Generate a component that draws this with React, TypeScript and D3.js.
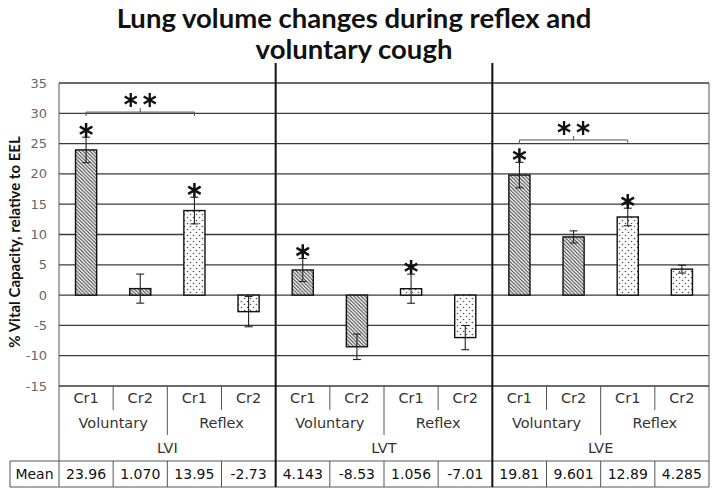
import { useEffect, useRef } from "react";
import * as d3 from "d3";

const groups = ["LVI", "LVT", "LVE"];
const conditions = ["Voluntary", "Reflex"];
const coughs = ["Cr1", "Cr2"];

const lviMeans = [23.96, 1.07, 13.95, -2.73];
const lvtMeans = [4.143, -8.53, 1.056, -7.01];
const lveMeans = [19.81, 9.601, 12.89, 4.285];

const lviErrors = [2.1, 2.4, 2.2, 2.5];
const lvtErrors = [1.9, 2.1, 2.4, 2.0];
const lveErrors = [2.1, 1.0, 1.45, 0.65];

const lviStars = [true, false, true, false];
const lvtStars = [true, false, true, false];
const lveStars = [true, false, true, false];

const meanLabels = [
  "23.96", "1.070", "13.95", "-2.73",
  "4.143", "-8.53", "1.056", "-7.01",
  "19.81", "9.601", "12.89", "4.285",
];

const yTicks = [35, 30, 25, 20, 15, 10, 5, 0, -5, -10, -15];

// ** brackets: from Voluntary Cr1 to Reflex Cr1 in a group, at a y level
const bracketGroups = ["LVI", "LVE"];
const bracketLevels = [30.2, 25.6];

const title = ["Lung volume changes during reflex and", "voluntary cough"];
const yLabel = "% Vital Capacity, relative to EEL";

type Bar = {
  id: string;
  group: string;
  condition: string;
  cough: string;
  value: number;
  err: number;
  star: boolean;
  label: string;
};

const allMeans = [lviMeans, lvtMeans, lveMeans];
const allErrors = [lviErrors, lvtErrors, lveErrors];
const allStars = [lviStars, lvtStars, lveStars];

const bars: Bar[] = [];
groups.forEach((g, gi) =>
  conditions.forEach((c, ci) =>
    coughs.forEach((k, ki) => {
      const i = ci * 2 + ki;
      bars.push({
        id: `${g}-${c}-${k}`,
        group: g,
        condition: c,
        cough: k,
        value: allMeans[gi][i],
        err: allErrors[gi][i],
        star: allStars[gi][i],
        label: meanLabels[gi * 4 + i],
      });
    })
  )
);

const starPath = (cx: number, cy: number, r: number) => {
  const a = Math.PI / 6;
  const dx = r * Math.cos(a);
  const dy = r * Math.sin(a);
  return (
    `M${cx},${cy - r}L${cx},${cy + r}` +
    `M${cx - dx},${cy - dy}L${cx + dx},${cy + dy}` +
    `M${cx - dx},${cy + dy}L${cx + dx},${cy - dy}`
  );
};

export default function App() {
  const svgRef = useRef<SVGSVGElement | null>(null);
  const width = 714;
  const height = 490;

  useEffect(() => {
    const svg = d3.select(svgRef.current);
    svg.selectAll("*").remove();

    const left = 59;
    const right = 709;
    const plotTop = 83;
    const plotBottom = 386;
    const rowCr = 410;
    const rowCond = 435;
    const rowGroup = 461;
    const rowMean = 487;
    const meanLeft = 10;
    const labelFont = "'DejaVu Sans', Verdana, sans-serif";

    const y = d3.scaleLinear().domain([-15, 35]).range([plotBottom, plotTop]);
    const x = d3
      .scaleBand<string>()
      .domain(bars.map((b) => b.id))
      .range([left, right])
      .paddingInner(0.61)
      .paddingOuter(0.305);
    const step = x.step();
    const cellLeft = (i: number) => left + i * step;

    const defs = svg.append("defs");
    const hatch = defs
      .append("pattern")
      .attr("id", "hatch")
      .attr("width", 3.6)
      .attr("height", 3.6)
      .attr("patternUnits", "userSpaceOnUse");
    hatch.append("rect").attr("width", 3.6).attr("height", 3.6).attr("fill", "#fff");
    hatch
      .append("path")
      .attr("d", "M-1,-1L4.6,4.6M2.6,-1L4.6,1M-1,2.6L1,4.6")
      .attr("stroke", "#2a2a2a")
      .attr("stroke-width", 1);

    const dots = defs
      .append("pattern")
      .attr("id", "dots")
      .attr("width", 6)
      .attr("height", 6)
      .attr("patternUnits", "userSpaceOnUse");
    dots.append("rect").attr("width", 6).attr("height", 6).attr("fill", "#fff");
    dots.append("circle").attr("cx", 1.5).attr("cy", 1.5).attr("r", 0.8).attr("fill", "#555");
    dots.append("circle").attr("cx", 4.5).attr("cy", 4.5).attr("r", 0.8).attr("fill", "#555");

    svg.append("rect").attr("width", width).attr("height", height).attr("fill", "#fff");

    // title
    svg
      .append("g")
      .selectAll("text")
      .data(title)
      .join("text")
      .attr("x", 354)
      .attr("y", (_, i) => 28 + i * 31)
      .attr("text-anchor", "middle")
      .attr("font-family", "Lato, sans-serif")
      .attr("font-weight", "bold")
      .attr("font-size", 27.5)
      .attr("fill", "#111")
      .text((d) => d);

    // gridlines
    svg
      .append("g")
      .selectAll("line")
      .data(yTicks)
      .join("line")
      .attr("x1", left)
      .attr("x2", right)
      .attr("y1", (d) => y(d))
      .attr("y2", (d) => y(d))
      .attr("stroke", "#3a3a3a")
      .attr("stroke-width", 1.3);

    // y tick labels
    svg
      .append("g")
      .selectAll("text")
      .data(yTicks)
      .join("text")
      .attr("x", 47)
      .attr("y", (d) => y(d))
      .attr("dy", "0.35em")
      .attr("text-anchor", "end")
      .attr("font-family", labelFont)
      .attr("font-size", 13)
      .attr("fill", "#666")
      .text((d) => d);

    // y label
    svg
      .append("text")
      .attr("transform", `translate(15,242) rotate(-90)`)
      .attr("text-anchor", "middle")
      .attr("dy", "0.35em")
      .attr("font-family", "Lato, sans-serif")
      .attr("font-weight", "bold")
      .attr("font-size", 15)
      .attr("fill", "#111")
      .text(yLabel);

    // bars
    svg
      .append("g")
      .selectAll("rect")
      .data(bars)
      .join("rect")
      .attr("x", (d) => x(d.id)!)
      .attr("width", x.bandwidth())
      .attr("y", (d) => y(Math.max(0, d.value)))
      .attr("height", (d) => Math.abs(y(d.value) - y(0)))
      .attr("fill", (d) => (d.condition === "Voluntary" ? "url(#hatch)" : "url(#dots)"))
      .attr("stroke", "#111")
      .attr("stroke-width", 1.4);

    // error bars
    const eb = svg.append("g").attr("stroke", "#222").attr("stroke-width", 1.1);
    bars.forEach((b) => {
      const cx = x(b.id)! + x.bandwidth() / 2;
      const y1 = y(b.value + b.err);
      const y2 = y(b.value - b.err);
      eb.append("line").attr("x1", cx).attr("x2", cx).attr("y1", y1).attr("y2", y2);
      eb.append("line").attr("x1", cx - 4).attr("x2", cx + 4).attr("y1", y1).attr("y2", y1);
      eb.append("line").attr("x1", cx - 4).attr("x2", cx + 4).attr("y1", y2).attr("y2", y2);
    });

    // significance stars
    svg
      .append("g")
      .selectAll("path")
      .data(bars.filter((b) => b.star))
      .join("path")
      .attr("d", (b) => starPath(x(b.id)! + x.bandwidth() / 2, y(b.value + b.err) - 7, 7.2))
      .attr("stroke", "#111")
      .attr("stroke-width", 2.5)
      .attr("fill", "none");

    // brackets
    bracketGroups.forEach((g, i) => {
      const a = bars.find((b) => b.group === g && b.condition === "Voluntary" && b.cough === "Cr1")!;
      const c = bars.find((b) => b.group === g && b.condition === "Reflex" && b.cough === "Cr1")!;
      const x1 = x(a.id)! + x.bandwidth() / 2;
      const x2 = x(c.id)! + x.bandwidth() / 2;
      const ly = y(bracketLevels[i]);
      const mx = (x1 + x2) / 2;
      svg
        .append("path")
        .attr("d", `M${x1},${ly + 4}L${x1},${ly}L${x2},${ly}L${x2},${ly + 4}M${mx},${ly}L${mx},${ly - 4}`)
        .attr("stroke", "#555")
        .attr("stroke-width", 1)
        .attr("fill", "none");
      [-9.5, 9.5].forEach((o) =>
        svg
          .append("path")
          .attr("d", starPath(mx + o, ly - 12, 7))
          .attr("stroke", "#111")
          .attr("stroke-width", 2.3)
          .attr("fill", "none")
      );
    });

    // category table lines
    const tl = svg.append("g").attr("stroke", "#555").attr("stroke-width", 1);
    tl.append("line").attr("x1", left).attr("x2", left).attr("y1", plotTop).attr("y2", rowMean);
    tl.append("line").attr("x1", right).attr("x2", right).attr("y1", plotTop).attr("y2", rowMean);
    tl.append("line").attr("x1", meanLeft).attr("x2", right).attr("y1", rowGroup).attr("y2", rowGroup);
    tl.append("line").attr("x1", meanLeft).attr("x2", right).attr("y1", rowMean).attr("y2", rowMean);
    tl.append("line").attr("x1", meanLeft).attr("x2", meanLeft).attr("y1", rowGroup).attr("y2", rowMean);
    bars.forEach((b, i) => {
      if (i === 0) return;
      const bx = cellLeft(i);
      if (i % 4 === 0) return;
      const bottom = i % 2 === 1 ? rowCr : rowCond;
      tl.append("line").attr("x1", bx).attr("x2", bx).attr("y1", plotBottom).attr("y2", bottom);
      tl.append("line").attr("x1", bx).attr("x2", bx).attr("y1", rowGroup).attr("y2", rowMean);
    });

    // group separators
    svg
      .append("g")
      .selectAll("line")
      .data([1, 2])
      .join("line")
      .attr("x1", (d) => cellLeft(d * 4))
      .attr("x2", (d) => cellLeft(d * 4))
      .attr("y1", 63)
      .attr("y2", rowMean)
      .attr("stroke", "#111")
      .attr("stroke-width", 2);

    const txt = svg
      .append("g")
      .attr("font-family", labelFont)
      .attr("font-size", 14.5)
      .attr("text-anchor", "middle")
      .attr("fill", "#333");

    bars.forEach((b, i) => {
      const cx = cellLeft(i) + step / 2;
      txt.append("text").attr("x", cx).attr("y", 398).attr("dy", "0.35em").text(b.cough);
      txt
        .append("text")
        .attr("x", cx)
        .attr("y", 474)
        .attr("dy", "0.35em")
        .attr("font-size", 14)
        .attr("fill", "#111")
        .text(b.label);
    });
    groups.forEach((g, gi) => {
      conditions.forEach((c, ci) => {
        const cx = cellLeft(gi * 4 + ci * 2 + 1);
        txt.append("text").attr("x", cx).attr("y", 423).attr("dy", "0.35em").text(c);
      });
      txt
        .append("text")
        .attr("x", cellLeft(gi * 4 + 2))
        .attr("y", 448)
        .attr("dy", "0.35em")
        .text(g);
    });
    txt
      .append("text")
      .attr("x", (meanLeft + left) / 2)
      .attr("y", 474)
      .attr("dy", "0.35em")
      .attr("font-size", 14)
      .attr("fill", "#111")
      .text("Mean");
  }, []);

  return (
    <svg
      ref={svgRef}
      width={width}
      height={height}
      style={{ position: "absolute", left: 0, top: 0 }}
    ></svg>
  );
}
